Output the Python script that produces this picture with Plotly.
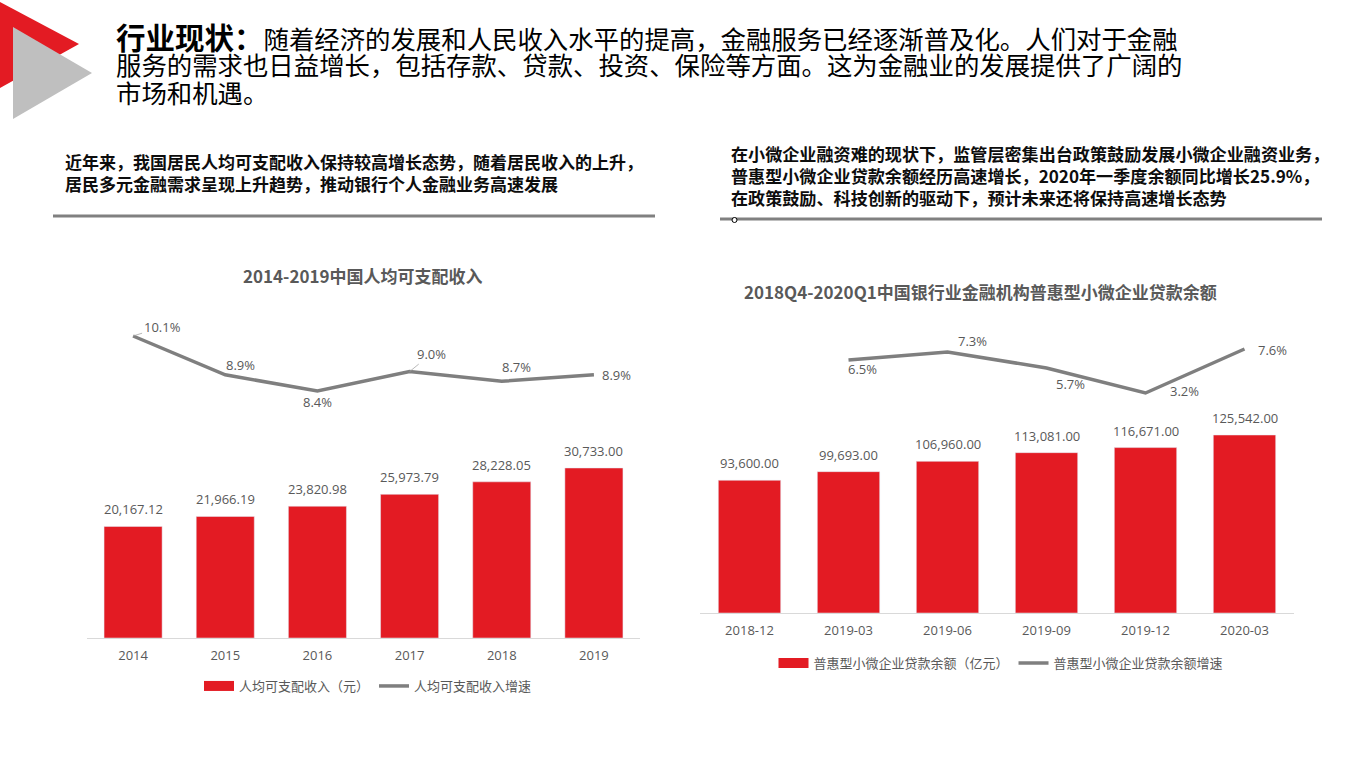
import plotly.graph_objects as go

# ---------------- data ----------------
years = ["2014", "2015", "2016", "2017", "2018", "2019"]
income = [20167.12, 21966.19, 23820.98, 25973.79, 28228.05, 30733.00]
income_growth = [10.1, 8.9, 8.4, 9.0, 8.7, 8.9]

quarters = ["2018-12", "2019-03", "2019-06", "2019-09", "2019-12", "2020-03"]
loans = [93600.00, 99693.00, 106960.00, 113081.00, 116671.00, 125542.00]
loan_growth = [None, 6.5, 7.3, 5.7, 3.2, 7.6]

left_title = "2014-2019中国人均可支配收入"
right_title = "2018Q4-2020Q1中国银行业金融机构普惠型小微企业贷款余额"
left_bar_name = "人均可支配收入（元）"
left_line_name = "人均可支配收入增速"
right_bar_name = "普惠型小微企业贷款余额（亿元）"
right_line_name = "普惠型小微企业贷款余额增速"

header_lines = [
    "<b><span style='font-size:29.5px'>行业现状：</span></b>随着经济的发展和人民收入水平的提高，金融服务已经逐渐普及化。人们对于金融",
    "服务的需求也日益增长，包括存款、贷款、投资、保险等方面。这为金融业的发展提供了广阔的",
    "市场和机遇。",
]
left_sub = ("<b>近年来，我国居民人均可支配收入保持较高增长态势，随着居民收入的上升，<br>"
            "居民多元金融需求呈现上升趋势，推动银行个人金融业务高速发展</b>")
right_sub = ("<b>在小微企业融资难的现状下，监管层密集出台政策鼓励发展小微企业融资业务，<br>"
             "普惠型小微企业贷款余额经历高速增长，2020年一季度余额同比增长25.9%，<br>"
             "在政策鼓励、科技创新的驱动下，预计未来还将保持高速增长态势</b>")

# label offsets (pixels) for the growth-rate labels: (dx, dy-up, leader line?)
left_label_offsets = [(29, 9, True), (15, 10, False), (0, -11, False),
                      (22, 18, True), (15, 14, False), (23, 0, False)]
right_label_offsets = [(0, 0, False), (14, -9, False), (25, 11, False),
                       (24, -16, False), (39, 2, False), (28, -1, False)]

# ---------------- style ----------------
W, H = 1366, 768
RED = "#E31B23"
GRAY_LINE = "#7F7F7F"
TXT = "#595959"
FONT = "Open Sans, Noto Sans CJK SC"
CJK = "Noto Sans CJK SC"


def px(x):
    return x / W


def py(y):
    return 1 - y / H


fig = go.Figure()

# left chart
fig.add_trace(go.Bar(
    x=years, y=income, name=left_bar_name, marker_color=RED, width=0.63,
    showlegend=False, xaxis="x", yaxis="y"))
fig.add_trace(go.Scatter(
    x=[None], y=[None], name=left_bar_name, mode="lines",
    line=dict(color=RED, width=10), xaxis="x", yaxis="y", legend="legend"))
fig.add_trace(go.Scatter(
    x=years, y=income_growth, name=left_line_name, mode="lines",
    line=dict(color=GRAY_LINE, width=3.5), xaxis="x", yaxis="y3", legend="legend"))

# right chart
fig.add_trace(go.Bar(
    x=quarters, y=loans, name=right_bar_name, marker_color=RED, width=0.63,
    showlegend=False, xaxis="x2", yaxis="y2"))
fig.add_trace(go.Scatter(
    x=[None], y=[None], name=right_bar_name, mode="lines",
    line=dict(color=RED, width=10), xaxis="x2", yaxis="y2", legend="legend2"))
fig.add_trace(go.Scatter(
    x=quarters, y=loan_growth, name=right_line_name, mode="lines",
    line=dict(color=GRAY_LINE, width=3.5), xaxis="x2", yaxis="y4", legend="legend2"))

xcommon = dict(type="category", range=[-0.5, 5.5], showline=True, linecolor="#D9D9D9",
               linewidth=1, showgrid=False, zeroline=False, ticks="outside", ticklen=5,
               tickcolor="rgba(0,0,0,0)",
               tickfont=dict(color=TXT, size=13, family=FONT), fixedrange=True)

fig.update_layout(
    width=W, height=H, margin=dict(l=0, r=0, t=0, b=0),
    paper_bgcolor="white", plot_bgcolor="white",
    font=dict(family=FONT, color=TXT),
    barmode="overlay",
    xaxis=dict(domain=[px(87), px(640)], anchor="y", categoryarray=years,
               categoryorder="array", **xcommon),
    yaxis=dict(domain=[py(638), py(300)], range=[0, 61100], visible=False),
    yaxis3=dict(overlaying="y", anchor="x", range=[0.766, 11.213], visible=False),
    xaxis2=dict(domain=[px(700), px(1294)], anchor="y2", categoryarray=quarters,
                categoryorder="array", **xcommon),
    yaxis2=dict(domain=[py(613), py(300)], range=[0, 220756], visible=False),
    yaxis4=dict(overlaying="y2", anchor="x2", range=[-18.8, 12.5], visible=False),
    legend=dict(orientation="h", x=px(368), xanchor="center", y=py(686), yanchor="middle",
                font=dict(color=TXT, size=13, family=FONT), bgcolor="rgba(0,0,0,0)",
                itemwidth=30),
    legend2=dict(orientation="h", x=px(1001), xanchor="center", y=py(663), yanchor="middle",
                 font=dict(color=TXT, size=13, family=FONT), bgcolor="rgba(0,0,0,0)",
                 itemwidth=30),
    showlegend=True,
)

annotations = []
# bar value labels (category axes: position by category index)
for cats, ys, xr, yr in [(years, income, "x", "y"), (quarters, loans, "x2", "y2")]:
    for i, yv in enumerate(ys):
        annotations.append(dict(
            x=i, y=yv, xref=xr, yref=yr, text=f"{yv:,.2f}", showarrow=False,
            yanchor="middle", yshift=17, font=dict(color=TXT, size=13, family=FONT)))

# growth labels
for cats, ys, offs, xr, yr in [(years, income_growth, left_label_offsets, "x", "y3"),
                               (quarters, loan_growth, right_label_offsets, "x2", "y4")]:
    for i, (yv, (dx, dy, lead)) in enumerate(zip(ys, offs)):
        if yv is None:
            continue
        if lead:
            annotations.append(dict(
                x=i, y=yv, xref=xr, yref=yr, text=f"{yv:.1f}%", showarrow=True,
                arrowhead=0, arrowwidth=0.8, arrowcolor="#A6A6A6", ax=dx, ay=-dy,
                standoff=0, font=dict(color=TXT, size=13, family=FONT)))
        else:
            annotations.append(dict(
                x=i, y=yv, xref=xr, yref=yr, text=f"{yv:.1f}%", showarrow=False,
                xshift=dx, yshift=dy, font=dict(color=TXT, size=13, family=FONT)))

for i, line in enumerate(header_lines):
    annotations.append(dict(
        text=line, x=px(114), y=py(36 + 28 * i), xref="paper", yref="paper",
        xanchor="left", yanchor="middle", showarrow=False, align="left",
        font=dict(size=25.4, color="#000000", family=CJK)))
annotations.append(dict(
    text=left_sub, x=px(63), y=py(173), xref="paper", yref="paper",
    xanchor="left", yanchor="middle", showarrow=False, align="left",
    font=dict(size=17, color="#0D0D0D", family=CJK)))
annotations.append(dict(
    text=right_sub, x=px(729), y=py(175), xref="paper", yref="paper",
    xanchor="left", yanchor="middle", showarrow=False, align="left",
    font=dict(size=17.1, color="#0D0D0D", family=CJK)))
annotations.append(dict(
    text="<b>" + left_title + "</b>", x=px(363), y=py(275), xref="paper", yref="paper",
    xanchor="center", yanchor="middle", showarrow=False,
    font=dict(size=17, color=TXT, family=CJK)))
annotations.append(dict(
    text="<b>" + right_title + "</b>", x=px(980), y=py(292), xref="paper", yref="paper",
    xanchor="center", yanchor="middle", showarrow=False,
    font=dict(size=17, color=TXT, family=CJK)))

shapes = [
    # logo triangles
    dict(type="path", xref="paper", yref="paper",
         path=f"M {px(0)},{py(2)} L {px(79)},{py(44)} L {px(0)},{py(88)} Z",
         fillcolor=RED, line=dict(width=0)),
    dict(type="path", xref="paper", yref="paper",
         path=f"M {px(13)},{py(27)} L {px(92)},{py(73)} L {px(13)},{py(119)} Z",
         fillcolor="#BFBFBF", line=dict(width=0)),
    # separators
    dict(type="line", xref="paper", yref="paper", x0=px(53), x1=px(655), y0=py(216), y1=py(216),
         line=dict(color="#808080", width=3)),
    dict(type="line", xref="paper", yref="paper", x0=px(720), x1=px(1322), y0=py(219), y1=py(219),
         line=dict(color="#808080", width=3)),
    dict(type="circle", xref="paper", yref="paper", x0=px(732), x1=px(737), y0=py(217.5), y1=py(222.5),
         fillcolor="white", line=dict(color="#000000", width=1)),
]

fig.update_layout(annotations=annotations, shapes=shapes)

fig.write_html("out.html", config={"displayModeBar": False},
               post_script="document.body.style.margin='0';document.body.style.padding='0';")
